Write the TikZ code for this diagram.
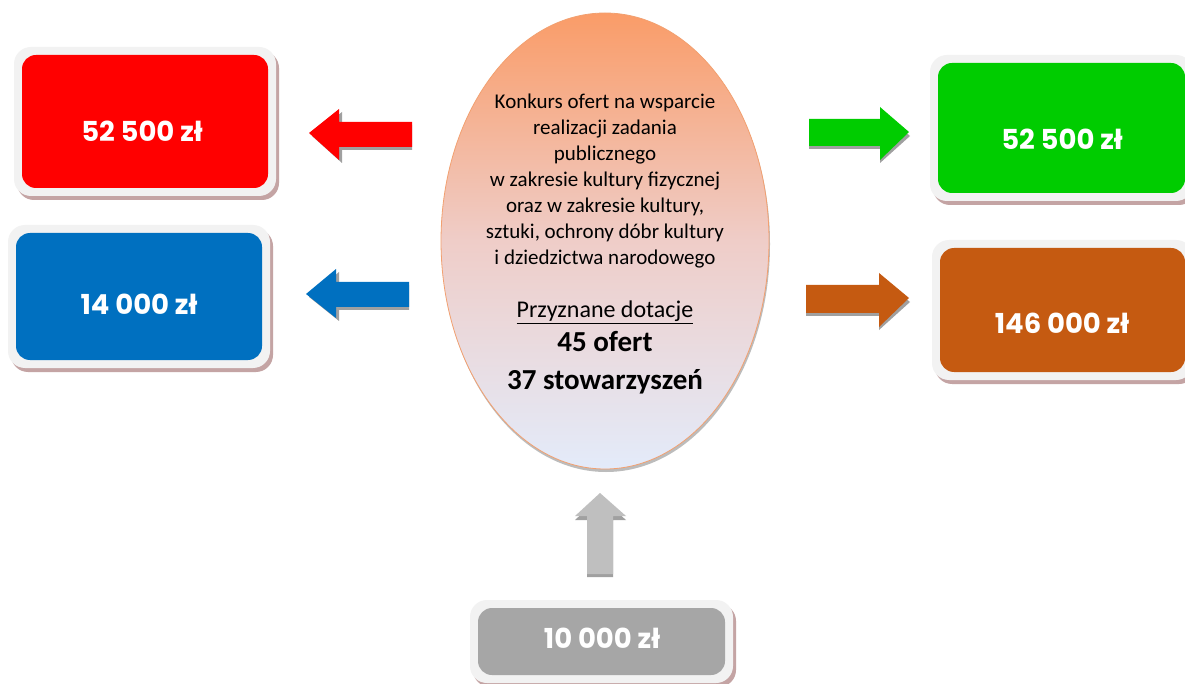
\documentclass[tikz,border=0pt]{standalone}
\usepackage{fontspec}
\setmainfont{Carlito}
\newfontfamily\boxfont{Poppins}
\usetikzlibrary{shapes.geometric}
\definecolor{framegray}{HTML}{F2F2F2}
\definecolor{shadowrose}{HTML}{C4A4A4}
\definecolor{cred}{HTML}{FF0000}
\definecolor{cblue}{HTML}{0070C0}
\definecolor{cgreen}{HTML}{00CC00}
\definecolor{cbrown}{HTML}{C55A11}
\definecolor{cgray}{HTML}{A6A6A6}
\definecolor{arrowgray}{HTML}{BFBFBF}
\definecolor{arrowshadow}{HTML}{A0A0A0}
\definecolor{elltop}{HTML}{FA9C68}
\definecolor{ellmid}{HTML}{EFCDC8}
\definecolor{ellbot}{HTML}{E3EBFA}
\definecolor{ellborder}{HTML}{F2A070}
\tikzset{
  framebox/.style={fill=framegray, rounded corners=17pt, draw=none},
  shadowbox/.style={fill=shadowrose, rounded corners=17pt, draw=none},
  innerbox/.style={rounded corners=14pt, draw=none, inner sep=0pt},
  boxtext/.style={text=white, font=\boxfont\bfseries\fontsize{27.5}{30}\selectfont, inner sep=0pt, anchor=base},
  elltext/.style={font=\fontsize{21}{26}\selectfont, inner sep=0pt, anchor=base},
  arrowshade/.style={fill=arrowshadow, draw=none},
}
% \moneybox{name}{x1}{y1}{x2}{y2}{pad}{colour}
\newcommand{\moneybox}[7]{%
  \fill[shadowbox] (#2-#6+3,#3-#6+4) rectangle (#4+#6+3,#5+#6+4);
  \fill[framebox] (#2-#6,#3-#6) rectangle (#4+#6,#5+#6);
  \node[innerbox, fill=#7, minimum width=#4-#2, minimum height=#5-#3] (#1) at ({(#2+#4)/2},{(#3+#5)/2}) {};
}
\begin{document}
\begin{tikzpicture}[x=1pt,y=-1pt]
\useasboundingbox (0,0) rectangle (1185,684);
\fill[white] (0,0) rectangle (1185,684);

% boxes
\moneybox{redbox}{22}{55}{268}{188}{8}{cred}
\moneybox{bluebox}{16}{233}{262}{360}{8}{cblue}
\moneybox{greenbox}{938}{63}{1185}{193}{8}{cgreen}
\moneybox{brownbox}{940}{248}{1185}{372}{8}{cbrown}
\moneybox{graybox}{478}{608}{725}{675}{8}{cgray}

\node[boxtext] (redtxt) at (142,142) {52 500 zł};
\node[boxtext] (bluetxt) at (139,315) {14 000 zł};
\node[boxtext] (greentxt) at (1062,150) {52 500 zł};
\node[boxtext] (browntxt) at (1062,334) {146 000 zł};
\node[boxtext] (graytxt) at (602,648) {10 000 zł};

% ellipse
\fill[arrowshadow!70] (606,244) ellipse [x radius=164, y radius=228];
\node[ellipse, draw=ellborder, line width=0.8pt, top color=elltop, bottom color=ellbot, middle color=ellmid,
      minimum width=328pt, minimum height=456pt, inner sep=0pt] (ell) at (605,241) {};

\foreach \t [count=\i from 0] in {Konkurs ofert na wsparcie, realizacji zadania, publicznego,
   w zakresie kultury fizycznej, {oraz w zakresie kultury,}, {sztuki, ochrony dóbr kultury}, i dziedzictwa narodowego}
  \node[elltext] (line\i) at (605,{109+26*\i}) {\t};
\node[elltext, font=\fontsize{24}{28}\selectfont] (przy) at (605,318) {\underline{Przyznane dotacje}};
\node[elltext, font=\bfseries\fontsize{29}{32}\selectfont] (oferty) at (605,352) {45 ofert};
\node[elltext, font=\bfseries\fontsize{29}{32}\selectfont] (stow) at (605,389) {37 stowarzyszeń};

% left arrows
\fill[arrowshade] (412,125) -- (342,125) -- (342,112) -- (312,136) -- (342,163) -- (342,150) -- (412,150) -- cycle;
\fill[cred] (412,122) -- (339,122) -- (339,109) -- (309,133) -- (339,160) -- (339,147) -- (412,147) -- cycle;

\fill[arrowshade] (409,285) -- (339,285) -- (339,272) -- (309,297) -- (339,321) -- (339,310) -- (409,310) -- cycle;
\fill[cblue] (409,282) -- (336,282) -- (336,269) -- (306,294) -- (336,318) -- (336,307) -- (409,307) -- cycle;

% right arrows
\fill[arrowshade] (809,122) -- (880,122) -- (880,110) -- (910,136) -- (880,163) -- (880,149) -- (809,149) -- cycle;
\fill[cgreen] (809,119) -- (880,119) -- (880,107) -- (909,132) -- (880,160) -- (880,146) -- (809,146) -- cycle;

\fill[arrowshade] (806,288) -- (879,288) -- (879,276) -- (910,302) -- (879,330) -- (879,316) -- (806,316) -- cycle;
\fill[cbrown] (806,285) -- (879,285) -- (879,273) -- (909,298) -- (879,327) -- (879,313) -- (806,313) -- cycle;

% up arrow
\fill[arrowshade] (587,520) -- (575,520) -- (600,497) -- (626,520) -- (613,520) -- (613,577) -- (587,577) -- cycle;
\fill[arrowgray] (587,516) -- (575,516) -- (600,493) -- (626,516) -- (613,516) -- (613,574) -- (587,574) -- cycle;
\end{tikzpicture}
\end{document}
